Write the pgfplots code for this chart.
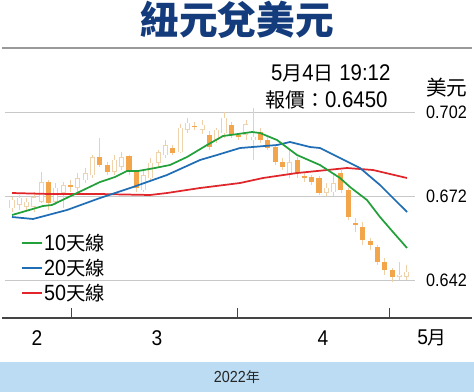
\documentclass[border=0pt]{standalone}
\usepackage{pgfplots}
\pgfplotsset{compat=1.18}
\usepackage{pgfplotstable}
\usepackage{fontspec}
\setmainfont{Liberation Sans}
\newfontfamily\nar[FakeStretch=0.9]{Liberation Sans}
\newfontfamily\cjk[Scale=0.88]{Noto Sans CJK TC}
\newfontfamily\cjkt{Noto Sans CJK TC}
\newcommand\C[1]{{\cjk #1}}
\definecolor{candleor}{HTML}{F2A54A}
\definecolor{hollowc}{HTML}{EFD3AC}
\definecolor{wickc}{HTML}{EFD0A6}
\definecolor{magreen}{HTML}{22A03A}
\definecolor{mablue}{HTML}{1F6DB5}
\definecolor{mared}{HTML}{E0262A}
\definecolor{gridc}{HTML}{C8C8C8}
\definecolor{topgray}{HTML}{9A9A9A}
\definecolor{axisgray}{HTML}{444444}
\definecolor{bandblue}{HTML}{BCDCF3}
\definecolor{titleblue}{HTML}{143C7C}

\pgfplotstableread{
i o h l c
0 0.6677 0.6716 0.6663 0.6706
1 0.6688 0.6724 0.6670 0.6713
2 0.6681 0.6713 0.6670 0.6699
3 0.6681 0.6734 0.6663 0.6716
4 0.6699 0.6806 0.6695 0.6770
6 0.6699 0.6766 0.6688 0.6749
7 0.6731 0.6770 0.6677 0.6759
9 0.6749 0.6802 0.6734 0.6784
10 0.6777 0.6820 0.6766 0.6802
11 0.6795 0.6866 0.6784 0.6859
14 0.6806 0.6866 0.6795 0.6849
15 0.6824 0.6877 0.6813 0.6859
18 0.6741 0.6813 0.6734 0.6795
19 0.6784 0.6856 0.6777 0.6838
20 0.6838 0.6884 0.6820 0.6877
21 0.6866 0.6920 0.6856 0.6902
23 0.6877 0.6977 0.6874 0.6963
24 0.6956 0.6999 0.6945 0.6981
26 0.6956 0.6991 0.6941 0.6974
28 0.6920 0.6963 0.6909 0.6956
29 0.6945 0.7020 0.6927 0.6999
32 0.6938 0.6991 0.6920 0.6977
33 0.6920 0.7034 0.6849 0.6931
38 0.6795 0.6884 0.6784 0.6841
43 0.6731 0.6766 0.6720 0.6749
44 0.6734 0.6795 0.6720 0.6766
53 0.6431 0.6484 0.6420 0.6438
54 0.6431 0.6474 0.6420 0.6450
}\candlesup

\pgfplotstableread{
i o h l c
5 0.6770 0.6777 0.6670 0.6695
8 0.6759 0.6777 0.6734 0.6752
12 0.6859 0.6927 0.6824 0.6831
13 0.6831 0.6841 0.6795 0.6806
16 0.6863 0.6866 0.6795 0.6806
17 0.6806 0.6813 0.6734 0.6749
22 0.6891 0.6902 0.6866 0.6874
25 0.6970 0.6984 0.6956 0.6966
27 0.6938 0.6952 0.6884 0.6895
30 0.6974 0.6984 0.6927 0.6938
31 0.6938 0.6945 0.6920 0.6931
34 0.6949 0.6963 0.6909 0.6920
35 0.6920 0.6931 0.6884 0.6891
36 0.6895 0.6902 0.6831 0.6841
37 0.6841 0.6856 0.6813 0.6824
39 0.6849 0.6859 0.6784 0.6802
40 0.6791 0.6802 0.6770 0.6784
41 0.6788 0.6795 0.6759 0.6770
42 0.6784 0.6791 0.6724 0.6731
45 0.6802 0.6813 0.6731 0.6741
46 0.6741 0.6749 0.6634 0.6645
47 0.6624 0.6641 0.6591 0.6616
48 0.6609 0.6627 0.6545 0.6563
49 0.6559 0.6570 0.6527 0.6545
50 0.6538 0.6545 0.6474 0.6484
51 0.6484 0.6499 0.6438 0.6456
52 0.6456 0.6463 0.6413 0.6431
}\candlesdown

\pgfplotsset{
  candlepart/.style={draw=none, mark=none, forget plot},
}

\begin{document}
\begin{tikzpicture}
\useasboundingbox (-1.5pt,-55.5pt) rectangle (354pt,238.5pt);
\fill[bandblue] (-1.5pt,-55.5pt) rectangle (354pt,-33pt);
\node[font=\fontsize{12}{14}\selectfont\nar, text=black!85] at (176.25pt,-44.5pt) {2022\C{年}};
\node[font=\fontsize{29}{32}\selectfont\cjkt\bfseries, text=titleblue] at (176.25pt,223.5pt) {紐元兌美元};
\begin{axis}[
  at={(0,0)}, anchor=south west,
  scale only axis, width=352.5pt, height=202.5pt,
  xmin=-1.37, xmax=62.93, ymin=0.62843, ymax=0.72486,
  axis x line*=bottom, axis y line=none,
  x axis line style={color=axisgray, line width=1pt, -},
  xtick={8.2,30.9,51.6}, xticklabels={},
  tick align=inside, major tick length=7.5pt,
  xtick style={color=axisgray, line width=0.8pt},
  ytick=\empty,
  clip=false,
]
\draw[topgray, line width=0.8pt] (rel axis cs:0,1) -- (rel axis cs:1,1);
% grid lines
\addplot[gridc, line width=0.7pt, forget plot] coordinates {(-0.96,0.702) (55.1,0.702)};
\addplot[gridc, line width=0.7pt, forget plot] coordinates {(-0.96,0.672) (55.1,0.672)};
\addplot[gridc, line width=0.7pt, forget plot] coordinates {(-0.96,0.642) (55.1,0.642)};
% wicks
\addplot[candlepart, error bars/.cd, y dir=both, y explicit, error mark=none,
  error bar style={draw=wickc, line width=0.6pt}]
  table[x=i, y=c, y error plus expr=\thisrow{h}-\thisrow{c}, y error minus expr=\thisrow{c}-\thisrow{l}] {\candlesup};
\addplot[candlepart, error bars/.cd, y dir=both, y explicit, error mark=none,
  error bar style={draw=wickc, line width=0.6pt}]
  table[x=i, y=c, y error plus expr=\thisrow{h}-\thisrow{c}, y error minus expr=\thisrow{c}-\thisrow{l}] {\candlesdown};
% hollow bodies
\addplot[candlepart, error bars/.cd, y dir=plus, y explicit, error mark=none,
  error bar style={draw=hollowc, line width=3.8pt}]
  table[x=i, y=o, y error expr=\thisrow{c}-\thisrow{o}] {\candlesup};
\addplot[candlepart, error bars/.cd, y dir=plus, y explicit, error mark=none,
  error bar style={draw=white, line width=2.4pt}]
  table[x=i, y expr=\thisrow{o}+0.00018, y error expr=\thisrow{c}-\thisrow{o}-0.00036] {\candlesup};
% filled bodies
\addplot[candlepart, error bars/.cd, y dir=plus, y explicit, error mark=none,
  error bar style={draw=candleor, line width=3.8pt}]
  table[x=i, y=c, y error expr=\thisrow{o}-\thisrow{c}] {\candlesdown};
% moving averages
\addplot[mared, line width=1.3pt] coordinates {
(0,0.67307) (5.20,0.67271) (12.04,0.67271) (18.88,0.67236) (21.20,0.67307)
(25.72,0.67486) (31.19,0.67664) (34.34,0.67843) (38.99,0.68021) (45.83,0.68200)
(49.38,0.68129) (54.04,0.67843)};
\addplot[mablue, line width=1.3pt] coordinates {
(0,0.66450) (2.87,0.66379) (7.52,0.66700) (12.04,0.67129) (16.55,0.67521)
(21.20,0.67950) (25.72,0.68486) (28.04,0.68664) (31.19,0.68914) (36.25,0.69021)
(38.03,0.69129) (40.77,0.68950) (42.13,0.68914) (44.87,0.68557) (47.61,0.68200)
(50.34,0.67593) (54.04,0.66629)};
\addplot[magreen, line width=1.3pt] coordinates {
(0,0.66521) (4.24,0.66843) (5.47,0.66879) (8.89,0.67307) (12.04,0.67700)
(14.09,0.67879) (15.73,0.68093) (17.24,0.68093) (19.56,0.68200) (21.61,0.68307)
(23.94,0.68593) (26.68,0.69021) (28.86,0.69343) (30.92,0.69414) (32.83,0.69486)
(33.93,0.69450) (36.25,0.69200) (38.99,0.68664) (42.13,0.68307) (44.87,0.67843)
(46.24,0.67521) (48.56,0.67057) (50.34,0.66450) (52.12,0.65914) (54.04,0.65343)};
% legend
\draw[magreen, line width=1pt] (axis cs:1.37,0.65521) -- (axis cs:4.1,0.65521);
\draw[mablue, line width=1pt] (axis cs:1.37,0.64629) -- (axis cs:4.1,0.64629);
\draw[mared, line width=1pt] (axis cs:1.37,0.63736) -- (axis cs:4.1,0.63736);
\begin{scope}[every node/.style={anchor=west, inner sep=0pt, font=\fontsize{16.5}{20}\selectfont\nar}]
\node at (axis cs:4.35,0.65521) {10\C{天線}};
\node at (axis cs:4.35,0.64629) {20\C{天線}};
\node at (axis cs:4.35,0.63736) {50\C{天線}};
\end{scope}
% right labels
\begin{scope}[every node/.style={anchor=east, inner sep=0pt, font=\fontsize{13.5}{16}\selectfont\nar}]
\node at (axis cs:62.25,0.702) {0.702};
\node at (axis cs:62.25,0.672) {0.672};
\node at (axis cs:62.25,0.642) {0.642};
\end{scope}
\node[inner sep=0pt, font=\fontsize{15.5}{18}\selectfont\cjkt] at (axis cs:59.5,0.71057) {美元};
% annotation
\node[inner sep=0pt, font=\fontsize{17}{20}\selectfont\nar] at (axis cs:43.6,0.71593) {5\C{月}4\C{日} 19:12};
\node[inner sep=0pt, font=\fontsize{17}{20}\selectfont\nar] at (axis cs:43.0,0.70629) {\C{報價：}0.6450};
% month labels
\begin{scope}[every node/.style={inner sep=0pt, font=\fontsize{16}{19}\selectfont\nar}]
\node at (axis cs:3.42,0.62129) {2};
\node at (axis cs:19.84,0.62129) {3};
\node at (axis cs:42.54,0.62129) {4};
\node at (axis cs:57.46,0.62129) {5\C{月}};
\end{scope}
\end{axis}
\end{tikzpicture}
\end{document}
